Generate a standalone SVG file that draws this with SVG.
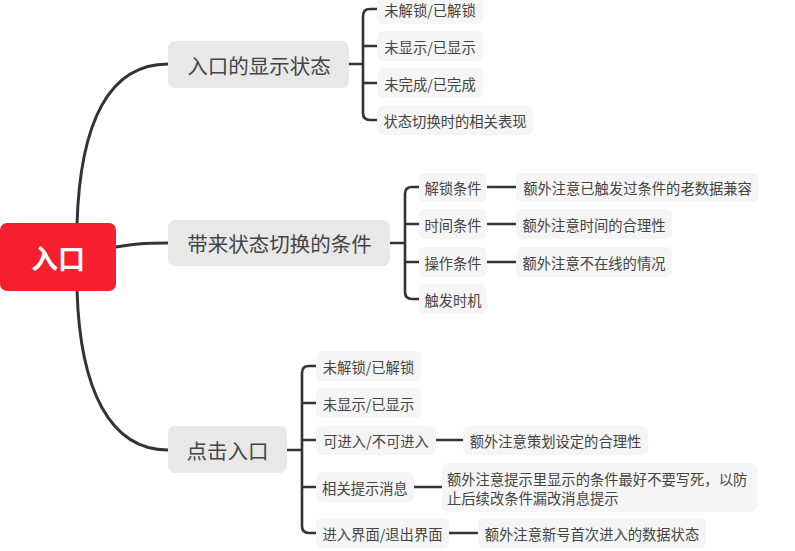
<svg xmlns="http://www.w3.org/2000/svg" width="795" height="551" viewBox="0 0 795 551">
<style>
text{font-family:"Microsoft YaHei","Noto Sans CJK SC","Noto Sans",sans-serif;text-anchor:middle;dominant-baseline:central}
.root rect{fill:#f61f2e}
.root text{fill:#fff;font-size:27px;font-weight:bold}
.main rect{fill:#e8e8e8}
.main text{fill:#444;font-size:20.5px}
.leaf rect{fill:#f5f5f5}
.leaf text{fill:#444;font-size:14.3px}
.c path{fill:none;stroke:#333;stroke-width:3;stroke-linecap:round}
.c .s{stroke-width:2.6}
</style>
<rect width="795" height="551" fill="#fff"/>
<g class="c" id="connectors">
<path d="M77,225 C80,120 110,64 168,64"/>
<path d="M116,247 C140,243 150,243 168,243"/>
<path d="M77,290 C80,390 110,450 168,450"/>
<path class="s" d="M349,64 H363 M377,9 H370 Q363,9 363,16 V113 Q363,120 370,120 H377 M363,46 H377 M363,83 H377"/>
<path class="s" d="M390,243 H405 M419,187 H412 Q405,187 405,194 V292 Q405,299 412,299 H419 M405,224 H419 M405,262 H419"/>
<path class="s" d="M487,187 H515 M487,224 H515 M487,262 H515"/>
<path class="s" d="M287,450 H302 M316,366 H309 Q302,366 302,373 V526 Q302,533 309,533 H316 M302,403 H316 M302,440 H316 M302,487 H316"/>
<path class="s" d="M436,440 H462 M414,487 H441 M449,533 H477"/>
</g>
<g class="root" id="n-root"><rect x="0" y="223" width="116" height="68" rx="7"/><text x="58" y="257">入口</text></g>
<g class="main" id="n-b1"><rect x="168" y="41" width="181" height="47" rx="7"/><text x="259" y="64.5">入口的显示状态</text></g>
<g class="main" id="n-b2"><rect x="168" y="220" width="222" height="46" rx="7"/><text x="279.5" y="243">带来状态切换的条件</text></g>
<g class="main" id="n-b3"><rect x="168" y="426" width="119" height="47" rx="7"/><text x="227.5" y="449.5">点击入口</text></g>
<g class="leaf" id="n-b1-1"><rect x="377" y="-6" width="106" height="30" rx="6"/><text x="430" y="9">未解锁/已解锁</text></g>
<g class="leaf" id="n-b1-2"><rect x="377" y="31" width="106" height="30" rx="6"/><text x="430" y="46">未显示/已显示</text></g>
<g class="leaf" id="n-b1-3"><rect x="377" y="68" width="106" height="30" rx="6"/><text x="430" y="83">未完成/已完成</text></g>
<g class="leaf" id="n-b1-4"><rect x="377" y="106" width="156" height="29" rx="6"/><text x="455" y="120.5">状态切换时的相关表现</text></g>
<g class="leaf" id="n-b2-1"><rect x="419" y="173" width="68" height="29" rx="6"/><text x="453" y="187.5">解锁条件</text></g>
<g class="leaf" id="n-b2-2"><rect x="419" y="209" width="68" height="30" rx="6"/><text x="453" y="224">时间条件</text></g>
<g class="leaf" id="n-b2-3"><rect x="419" y="247" width="68" height="30" rx="6"/><text x="453" y="262">操作条件</text></g>
<g class="leaf" id="n-b2-4"><rect x="419" y="284" width="68" height="30" rx="6"/><text x="453" y="299">触发时机</text></g>
<g class="leaf" id="n-b2-1a"><rect x="516" y="173" width="243" height="29" rx="6"/><text x="637.5" y="187.5">额外注意已触发过条件的老数据兼容</text></g>
<g class="leaf" id="n-b2-2a"><rect x="516" y="209" width="156" height="30" rx="6"/><text x="594" y="224">额外注意时间的合理性</text></g>
<g class="leaf" id="n-b2-3a"><rect x="516" y="247" width="156" height="30" rx="6"/><text x="594" y="262">额外注意不在线的情况</text></g>
<g class="leaf" id="n-b3-1"><rect x="316" y="351" width="105" height="30" rx="6"/><text x="368.5" y="366">未解锁/已解锁</text></g>
<g class="leaf" id="n-b3-2"><rect x="316" y="388" width="105" height="30" rx="6"/><text x="368.5" y="403">未显示/已显示</text></g>
<g class="leaf" id="n-b3-3"><rect x="316" y="426" width="120" height="29" rx="6"/><text x="376" y="440.5">可进入/不可进入</text></g>
<g class="leaf" id="n-b3-4"><rect x="316" y="472" width="98" height="30" rx="6"/><text x="365" y="487">相关提示消息</text></g>
<g class="leaf" id="n-b3-5"><rect x="316" y="518" width="133" height="30" rx="6"/><text x="382.5" y="533">进入界面/退出界面</text></g>
<g class="leaf" id="n-b3-3a"><rect x="463" y="426" width="185" height="29" rx="6"/><text x="555.5" y="440.5">额外注意策划设定的合理性</text></g>
<g class="leaf" id="n-b3-4a"><rect x="442" y="463" width="315" height="49" rx="6"/><text x="447" y="478" style="text-anchor:start">额外注意提示里显示的条件最好不要写死，以防</text><text x="447" y="497" style="text-anchor:start">止后续改条件漏改消息提示</text></g>
<g class="leaf" id="n-b3-5a"><rect x="478" y="518" width="228" height="30" rx="6"/><text x="592" y="533">额外注意新号首次进入的数据状态</text></g>
</svg>
